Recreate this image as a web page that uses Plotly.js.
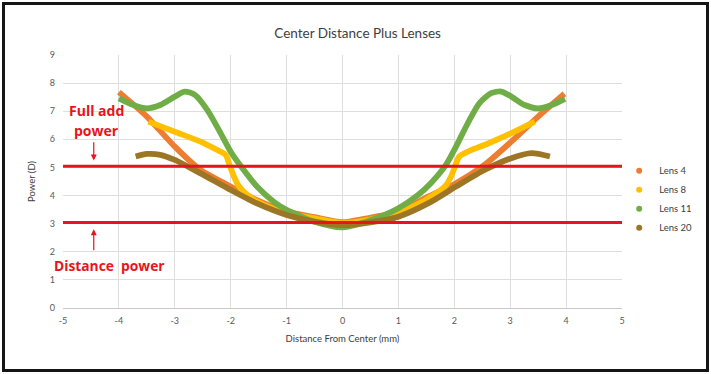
<!DOCTYPE html>
<html>
<head>
<meta charset="utf-8">
<script src="https://cdn.plot.ly/plotly-3.0.1.min.js"></script>
<style>
html,body{margin:0;padding:0;background:#fff;}
#wrap{position:relative;width:711px;height:374px;}
#chart{width:711px;height:374px;}
#frame{position:absolute;left:2px;top:2px;width:707px;height:370px;border:3px solid #151515;box-sizing:border-box;pointer-events:none;}
</style>
</head>
<body>
<div id="wrap"><div id="chart"></div><div id="frame"></div></div>
<script>
const seriesNames = ["Lens 4", "Lens 8", "Lens 11", "Lens 20"];
const seriesColors = ["#ED7D31", "#FFC000", "#70AD47", "#9C7625"];

const lens4X = [-4.0, -3.5, -3.0, -2.54, -2.0, -1.53, -1.0, -0.5, 0.0, 0.39, 1.0, 1.53, 2.03, 2.54, 3.02, 3.5, 3.97];
const lens4Y = [7.68, 6.81, 5.74, 4.91, 4.32, 3.84, 3.43, 3.23, 3.05, 3.17, 3.43, 3.96, 4.44, 5.09, 5.92, 6.81, 7.62];

const lens8X = [-3.47, -3.0, -2.54, -2.24, -2.09, -2.03, -1.94, -1.85, -1.70, -1.46, -1.0, -0.5, 0.0, 0.5, 1.0, 1.53, 1.83, 1.94, 2.0, 2.09, 2.30, 2.54, 3.02, 3.44];
const lens8Y = [6.63, 6.27, 5.92, 5.62, 5.45, 5.14, 4.67, 4.32, 4.02, 3.72, 3.37, 3.19, 3.02, 3.15, 3.37, 3.90, 4.32, 4.67, 4.97, 5.39, 5.62, 5.80, 6.22, 6.63];

const lens11X = [-4.0, -3.74, -3.5, -3.26, -3.0, -2.82, -2.64, -2.42, -2.21, -2.0, -1.79, -1.53, -1.23, -1.0, -0.5, 0.0, 0.51, 1.0, 1.35, 1.58, 1.85, 2.03, 2.24, 2.45, 2.66, 2.84, 3.02, 3.26, 3.5, 3.74, 3.98];
const lens11Y = [7.46, 7.22, 7.10, 7.22, 7.52, 7.70, 7.58, 7.05, 6.33, 5.56, 4.97, 4.32, 3.78, 3.49, 3.07, 2.87, 3.13, 3.55, 4.02, 4.44, 5.09, 5.74, 6.57, 7.29, 7.64, 7.70, 7.52, 7.22, 7.10, 7.22, 7.44];

const lens20X = [-3.70, -3.5, -3.26, -3.0, -2.54, -2.0, -1.53, -1.0, -0.5, 0.0, 0.5, 1.0, 1.53, 2.03, 2.54, 3.02, 3.38, 3.71];
const lens20Y = [5.39, 5.48, 5.45, 5.27, 4.79, 4.20, 3.72, 3.31, 3.07, 2.95, 3.05, 3.25, 3.72, 4.32, 4.91, 5.33, 5.51, 5.39];

const fullAddPower = 5.04;
const distancePower = 3.04;
const xTicks = [-5, -4, -3, -2, -1, 0, 1, 2, 3, 4, 5];
const yTicks = [0, 1, 2, 3, 4, 5, 6, 7, 8, 9];

const xs = [lens4X, lens8X, lens11X, lens20X];
const ys = [lens4Y, lens8Y, lens11Y, lens20Y];

const traces = [];
for (let i = 0; i < 4; i++) {
  traces.push({
    x: xs[i], y: ys[i], type: 'scatter', mode: 'lines',
    line: {color: seriesColors[i], width: 5.8, shape: 'spline', smoothing: 0.7},
    showlegend: false, hoverinfo: 'skip'
  });
}
for (let i = 0; i < 4; i++) {
  traces.push({
    x: [null], y: [null], type: 'scatter', mode: 'markers', name: seriesNames[i],
    marker: {color: seriesColors[i], size: 6}, showlegend: true
  });
}

const red = '#E8141C';
const layout = {
  width: 711, height: 374,
  margin: {l: 63, r: 89, t: 55, b: 66, autoexpand: false},
  paper_bgcolor: '#fff', plot_bgcolor: '#fff',
  font: {family: 'Lato, "Open Sans", sans-serif', color: '#595959', size: 9},
  title: {text: 'Center Distance Plus Lenses', x: 0.503, xanchor: 'center', y: 0.912, yanchor: 'middle',
          font: {family: 'Lato, sans-serif', size: 13.5, color: '#404040'}},
  xaxis: {range: [-5, 5], tickvals: xTicks, ticktext: xTicks.map(String), showgrid: true, gridcolor: '#dedede', gridwidth: 1,
          zeroline: false, showline: true, linecolor: '#c8c8c8', linewidth: 1, ticks: '', ticklen: 0,
          ticklabelstandoff: 4,
          tickfont: {size: 9, color: '#595959'},
          title: {text: 'Distance From Center (mm)', font: {size: 9.5, color: '#404040'}, standoff: 10}},
  yaxis: {range: [0, 9], tickvals: yTicks, showgrid: true, gridcolor: '#dedede', gridwidth: 1,
          zeroline: false, showline: false, ticks: '', ticklabelstandoff: 7, tickfont: {size: 9, color: '#595959'},
          title: {text: 'Power (D)', font: {size: 9.5, color: '#404040'}, standoff: 12}},
  legend: {x: 0.995, xanchor: 'left', y: 0.43, yanchor: 'middle', font: {size: 9.5, color: '#404040'},
           itemwidth: 30, tracegroupgap: 2, bgcolor: 'rgba(0,0,0,0)'},
  shapes: [
    {type: 'line', xref: 'x', yref: 'y', x0: -5, x1: 5.08, y0: fullAddPower, y1: fullAddPower, line: {color: red, width: 3}},
    {type: 'line', xref: 'x', yref: 'y', x0: -5, x1: 5.08, y0: distancePower, y1: distancePower, line: {color: red, width: 3}}
  ],
  annotations: [
    {text: '<b>Full add</b>', xref: 'x', yref: 'y', x: -4.4, y: 7.03, showarrow: false,
     font: {family: '"Open Sans", sans-serif', size: 14, color: red}},
    {text: '<b>power</b>', xref: 'x', yref: 'y', x: -4.4, y: 6.3, showarrow: false,
     font: {family: '"Open Sans", sans-serif', size: 14, color: red}},
    {text: '<b>Distance  power</b>', xref: 'x', yref: 'y', x: -4.17, y: 1.5, showarrow: false,
     font: {family: '"Open Sans", sans-serif', size: 13.8, color: red}},
    {text: '', xref: 'x', yref: 'y', x: -4.45, y: 5.25, ax: -4.45, ay: 5.95, axref: 'x', ayref: 'y',
     showarrow: true, arrowhead: 2, arrowsize: 1, arrowwidth: 1.2, arrowcolor: red},
    {text: '', xref: 'x', yref: 'y', x: -4.45, y: 2.8, ax: -4.45, ay: 2.0, axref: 'x', ayref: 'y',
     showarrow: true, arrowhead: 2, arrowsize: 1, arrowwidth: 1.2, arrowcolor: red}
  ]
};

Plotly.newPlot('chart', traces, layout, {displayModeBar: false, staticPlot: true});
</script>
</body>
</html>
